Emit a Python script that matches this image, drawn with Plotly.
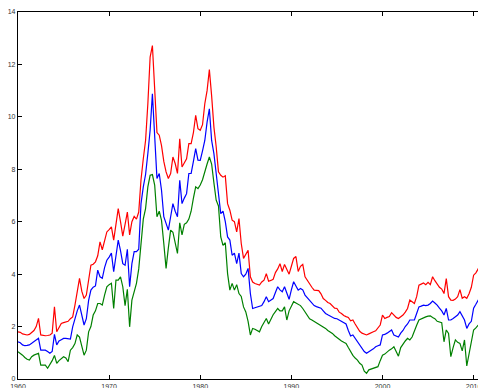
import plotly.graph_objects as go

# Quarterly values, 1960Q1 .. 2011Q2
red = [
    1.80, 1.78, 1.72, 1.70,  1.68, 1.70, 1.78, 1.85,  2.00, 2.31, 1.68, 1.66,
    1.65, 1.66, 1.68, 1.75,  2.75, 1.80, 1.95, 2.12,  2.15, 2.18, 2.20, 2.30,
    2.37, 2.82, 3.40, 3.84,  3.35, 3.07, 3.20, 3.70,  4.34, 4.38, 4.47, 4.70,
    5.23, 4.93, 5.30, 5.61,  5.70, 5.80, 5.30, 5.90,  6.50, 6.00, 5.45, 5.90,
    6.37, 5.50, 6.00, 6.20,  6.10, 6.37, 7.60, 8.40,  9.10, 10.50, 12.28, 12.72,
    11.00, 9.40, 9.30, 8.90,  8.30, 7.90, 7.65, 7.84,  8.47, 8.22, 7.84, 9.16,
    8.09, 8.25, 8.40, 8.98,  8.98, 9.40, 10.06, 9.55,  9.49, 9.70, 10.50, 11.00,
    11.80, 10.80, 9.61, 8.86,  7.90, 7.77, 7.70, 7.75,  6.69, 6.44, 6.06, 6.00,
    5.61, 6.12, 5.17, 4.60,  4.75, 4.91, 3.90, 3.70,  3.64, 3.60, 3.58, 3.70,
    3.77, 4.02, 3.73, 3.76,  3.80, 4.06, 4.20, 4.40,  4.10, 4.37, 4.20, 4.00,
    4.30, 4.60, 4.67, 4.10,  4.30, 4.37, 3.90, 3.75,  3.60, 3.50, 3.39, 3.38,
    3.37, 3.25, 3.07, 3.00,  2.92, 2.88, 2.80, 2.70,  2.69, 2.55, 2.50, 2.42,
    2.38, 2.35, 2.22, 2.25,  2.10, 1.93, 1.82, 1.75,  1.70, 1.68, 1.72, 1.75,
    1.80, 1.84, 1.95, 2.06,  2.44, 2.31, 2.35, 2.38,  2.53, 2.45, 2.35, 2.31,
    2.38, 2.44, 2.55, 2.69,  3.01, 2.95, 2.88, 3.14,  3.58, 3.62, 3.66, 3.60,
    3.69, 3.60, 3.90, 3.75,  3.60, 3.50, 3.43, 3.26,  3.83, 3.14, 3.01, 3.00,
    3.05, 3.14, 3.41, 3.08,  3.14, 3.08, 3.25, 3.50,  3.96, 4.05, 4.20, 4.40,
    4.72, 4.80,
]
blue = [
    1.42, 1.38, 1.30, 1.27,  1.28, 1.30, 1.36, 1.42,  1.48, 1.55, 1.10, 1.10,
    1.10, 1.05, 0.98, 1.05,  1.70, 1.30, 1.45, 1.50,  1.55, 1.55, 1.52, 1.52,
    1.99, 2.35, 2.60, 2.82,  2.40, 2.06, 2.30, 3.00,  3.39, 3.50, 3.55, 4.15,
    3.90, 3.84, 4.25, 4.53,  4.65, 4.80, 4.09, 4.70,  5.30, 4.90, 4.40, 4.34,
    4.95, 3.52, 4.40, 4.86,  4.86, 4.95, 6.69, 7.33,  7.80, 8.60, 9.49, 10.88,
    9.10, 7.65, 7.84, 7.20,  6.19, 5.90, 5.68, 6.19,  6.69, 6.40, 6.19, 7.58,
    6.69, 6.90, 7.07, 7.84,  7.84, 8.30, 8.79, 8.35,  8.34, 8.70, 9.10, 9.80,
    10.31, 9.10, 8.60, 7.84,  7.07, 6.31, 6.40, 6.00,  5.42, 5.30, 4.72, 4.80,
    4.40, 4.80, 4.02, 3.90,  4.00, 4.22, 3.26, 2.69,  2.72, 2.75, 2.78, 2.80,
    2.95, 3.14, 2.95, 3.00,  3.07, 3.30, 3.52, 3.40,  3.33, 3.52, 3.25, 3.04,
    3.40, 3.71, 3.55, 3.39,  3.45, 3.40, 3.20, 3.10,  3.01, 2.88, 2.80, 2.76,
    2.72, 2.70, 2.60, 2.50,  2.45, 2.40, 2.35, 2.31,  2.30, 2.25, 2.20, 2.15,
    2.10, 1.85, 1.64, 1.68,  1.55, 1.42, 1.28, 1.17,  1.05, 0.98, 1.05, 1.10,
    1.15, 1.23, 1.27, 1.30,  1.68, 1.70, 1.75, 1.80,  1.87, 1.68, 1.64, 1.60,
    1.75, 1.85, 2.00, 2.10,  2.25, 2.25, 2.25, 2.50,  2.75, 2.78, 2.82, 2.80,
    2.82, 2.88, 2.97, 2.90,  2.82, 2.70, 2.60, 2.44,  2.69, 2.25, 2.25, 2.31,
    2.38, 2.44, 2.57, 2.38,  2.25, 1.93, 2.10, 2.20,  2.70, 2.85, 3.01, 3.15,
    3.33, 3.40,
]
green = [
    1.04, 0.98, 0.91, 0.82,  0.75, 0.72, 0.85, 0.91,  0.95, 0.98, 0.53, 0.53,
    0.53, 0.41, 0.55, 0.70,  0.90, 0.60, 0.70, 0.79,  0.85, 0.80, 0.66, 1.10,
    1.20, 1.35, 1.68, 1.60,  1.30, 0.91, 1.10, 1.80,  2.00, 2.44, 2.60, 2.88,
    2.88, 2.82, 3.20, 3.52,  3.60, 3.65, 2.69, 3.77,  3.77, 3.90, 3.52, 2.80,
    3.42, 1.99, 3.01, 3.30,  3.65, 4.20, 5.04, 6.10,  6.50, 7.33, 7.77, 7.80,
    7.40, 6.19, 6.40, 6.05,  5.17, 4.22, 5.00, 5.68,  5.60, 5.20, 4.79, 5.96,
    5.50, 5.90, 5.96, 6.10,  6.40, 6.90, 7.33, 7.26,  7.40, 7.60, 7.96, 8.20,
    8.47, 8.20, 7.48, 6.82,  6.60, 5.42, 5.10, 5.20,  4.02, 3.39, 3.65, 3.39,
    3.60, 3.26, 3.15, 2.75,  2.56, 2.20, 1.68, 1.93,  1.90, 1.85, 1.80, 2.00,
    2.15, 2.31, 2.10, 2.30,  2.45, 2.57, 2.69, 2.60,  2.60, 2.75, 2.25, 2.60,
    2.80, 2.95, 2.90, 2.85,  2.80, 2.69, 2.55, 2.46,  2.30, 2.25, 2.20, 2.15,
    2.10, 2.06, 2.00, 1.93,  1.85, 1.80, 1.74, 1.65,  1.58, 1.49, 1.45, 1.40,
    1.36, 1.20, 1.04, 0.90,  0.80, 0.72, 0.60, 0.53,  0.30, 0.22, 0.35, 0.38,
    0.41, 0.43, 0.47, 0.70,  0.91, 0.95, 1.04, 1.10,  1.15, 1.23, 1.05, 0.87,
    1.20, 1.35, 1.45, 1.55,  1.49, 1.60, 1.87, 2.05,  2.25, 2.30, 2.35, 2.37,
    2.40, 2.41, 2.35, 2.30,  2.20, 2.18, 2.15, 1.42,  1.87, 1.74, 0.85, 1.20,
    1.49, 1.40, 1.36, 1.07,  1.49, 0.50, 1.00, 1.49,  1.87, 1.95, 2.06, 2.15,
    2.20, 2.22,
]
start_year = 1960
x_ticks = [1960, 1970, 1980, 1990, 2000, 2010]
y_ticks = [0, 2, 4, 6, 8, 10, 12, 14]

t = [start_year + i / 4 for i in range(len(red))]

fig = go.Figure()
for vals, col in [(red, "#ff0000"), (blue, "#0000ff"), (green, "#008000")]:
    fig.add_trace(go.Scatter(x=t, y=vals, mode="lines",
                             line=dict(color=col, width=1.2),
                             showlegend=False, hoverinfo="skip"))

axis_common = dict(showline=True, linecolor="black", linewidth=1.2,
                   mirror="ticks", ticks="inside", ticklen=4,
                   tickcolor="black", tickwidth=1, showgrid=False,
                   zeroline=False, automargin=False,
                   tickfont=dict(family="Liberation Sans, Arial", size=7, color="#333333"))

fig.update_layout(
    width=478, height=380,
    margin=dict(l=10, r=1, t=4, b=9),
    paper_bgcolor="white", plot_bgcolor="white",
    xaxis=dict(range=[1960, 2011.25], tickvals=x_ticks,
               ticktext=[str(v) for v in x_ticks], **axis_common),
    yaxis=dict(range=[0, 14], tickvals=y_ticks,
               ticktext=[str(v) for v in y_ticks], **axis_common),
)
fig.write_html("out.html")
